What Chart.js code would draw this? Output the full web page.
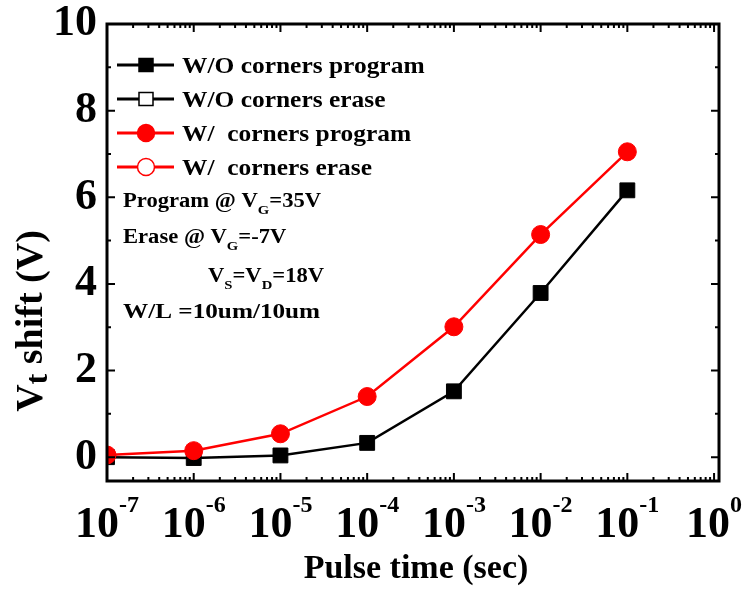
<!DOCTYPE html>
<html>
<head>
<meta charset="utf-8">
<script src="https://cdn.jsdelivr.net/npm/chart.js@4.4.0/dist/chart.umd.min.js"></script>
<style>
html, body { margin: 0; padding: 0; background: #fff; }
#caja { width: 743px; height: 592px; position: relative; }
</style>
</head>
<body>
<div id="caja"><canvas id="grafica"></canvas></div>
<script>
// datos
var pulseTimes = [1e-7, 1e-6, 1e-5, 1e-4, 1e-3, 1e-2, 1e-1];
var woProgram = [0.0, -0.02, 0.04, 0.33, 1.52, 3.79, 6.16];
var wProgram = [0.05, 0.15, 0.54, 1.40, 3.01, 5.14, 7.05];
var woErase = [];
var wErase = [];
var seriesNames = ['W/O corners program', 'W/O corners erase', 'W/  corners program', 'W/  corners erase'];
var yTicks = [0, 2, 4, 6, 8, 10];
var yMinorTicks = [1, 3, 5, 7, 9];
var xExponents = [-7, -6, -5, -4, -3, -2, -1, 0];

var FONT = "'Liberation Serif', 'Times New Roman', serif";

function puntos(vals) {
    return vals.map(function (v, i) { return { x: pulseTimes[i], y: v }; });
}

// texto con subindices / superindices: [texto, tipo, escala, desplazamiento]
function textoMixto(ctx, partes, x, y, size, align, sx) {
    sx = sx || 1;
    var total = 0;
    partes.forEach(function (p) {
        var s = p[1] ? size * p[2] : size;
        ctx.font = 'bold ' + s + 'px ' + FONT;
        p.w = ctx.measureText(p[0]).width * sx;
        total += p.w;
    });
    var cx = align === 'center' ? x - total / 2 : x;
    partes.forEach(function (p) {
        var s = p[1] ? size * p[2] : size;
        ctx.font = 'bold ' + s + 'px ' + FONT;
        var dy = p[1] === 'sub' ? p[3] : (p[1] === 'sup' ? -p[3] : 0);
        ctx.save();
        ctx.translate(cx, y + dy);
        ctx.scale(sx, 1);
        ctx.fillText(p[0], 0, 0);
        ctx.restore();
        cx += p.w;
    });
}

var marco = {
    id: 'marco',
    afterDraw: function (chart) {
        var ctx = chart.ctx;
        var a = chart.chartArea;
        var xs = chart.scales.x, ys = chart.scales.y;
        ctx.save();
        ctx.fillStyle = '#000';
        ctx.strokeStyle = '#000';

        // marco
        ctx.lineWidth = 3;
        ctx.strokeRect(a.left, a.top, a.right - a.left, a.bottom - a.top);

        // ticks hacia adentro
        ctx.lineWidth = 2;
        ctx.beginPath();
        yTicks.forEach(function (v) {
            var py = ys.getPixelForValue(v);
            ctx.moveTo(a.left, py); ctx.lineTo(a.left + 8, py);
            ctx.moveTo(a.right, py); ctx.lineTo(a.right - 8, py);
        });
        yMinorTicks.forEach(function (v) {
            var py = ys.getPixelForValue(v);
            ctx.moveTo(a.left, py); ctx.lineTo(a.left + 4, py);
            ctx.moveTo(a.right, py); ctx.lineTo(a.right - 4, py);
        });
        xExponents.forEach(function (e) {
            var px = xs.getPixelForValue(Math.pow(10, e));
            ctx.moveTo(px, a.bottom); ctx.lineTo(px, a.bottom - 8);
            ctx.moveTo(px, a.top); ctx.lineTo(px, a.top + 8);
            if (e < 0) {
                for (var k = 2; k <= 9; k++) {
                    var pm = xs.getPixelForValue(k * Math.pow(10, e));
                    ctx.moveTo(pm, a.bottom); ctx.lineTo(pm, a.bottom - 4);
                    ctx.moveTo(pm, a.top); ctx.lineTo(pm, a.top + 4);
                }
            }
        });
        ctx.stroke();

        // etiquetas eje y
        ctx.textAlign = 'right';
        ctx.textBaseline = 'middle';
        ctx.font = 'bold 44px ' + FONT;
        yTicks.forEach(function (v) {
            ctx.fillText(String(v), 97, ys.getPixelForValue(v));
        });

        // etiquetas eje x: 10^n
        ctx.textAlign = 'left';
        ctx.textBaseline = 'alphabetic';
        xExponents.forEach(function (e) {
            var px = xs.getPixelForValue(Math.pow(10, e));
            textoMixto(ctx, [['10'], [String(e), 'sup', 24 / 44, 25]], px, 537, 44, 'center');
        });

        // titulos
        textoMixto(ctx, [['Pulse time (sec)']], 416, 578, 34, 'center');
        ctx.save();
        ctx.translate(42, 321);
        ctx.rotate(-Math.PI / 2);
        textoMixto(ctx, [['V'], ['t', 'sub', 0.85, 5], [' shift (V)']], 0, 0, 38, 'center');
        ctx.restore();

        // leyenda
        var filas = [65, 99, 133, 167];
        chart.data.datasets.forEach(function (ds, i) {
            var yy = filas[i];
            ctx.strokeStyle = ds.borderColor;
            ctx.lineWidth = 3;
            ctx.beginPath();
            ctx.moveTo(117, yy); ctx.lineTo(174, yy);
            ctx.stroke();
            ctx.fillStyle = ds.pointBackgroundColor;
            ctx.lineWidth = 1.5;
            ctx.beginPath();
            if (ds.pointStyle === 'rect') {
                ctx.rect(139, yy - 6.5, 14, 13);
            } else {
                ctx.arc(146, yy, 8.5, 0, Math.PI * 2);
            }
            ctx.fill();
            ctx.stroke();
            ctx.fillStyle = '#000';
            textoMixto(ctx, [[seriesNames[i]]], 182, yy + 8, 24, 'left', 1.06);
        });

        // notas
        ctx.fillStyle = '#000';
        textoMixto(ctx, [['Program @ V'], ['G', 'sub', 0.65, 7], ['=35V']], 123, 207, 20, 'left', 1.13);
        textoMixto(ctx, [['Erase @ V'], ['G', 'sub', 0.65, 7], ['=-7V']], 123, 243, 20, 'left', 1.13);
        textoMixto(ctx, [['V'], ['S', 'sub', 0.65, 7], ['=V'], ['D', 'sub', 0.65, 7], ['=18V']], 208, 282, 20, 'left', 1.13);
        textoMixto(ctx, [['W/L =10um/10um']], 123, 318, 21, 'left', 1.2);

        ctx.restore();
    }
};

var ctx = document.getElementById('grafica');
var grafica = new Chart(ctx, {
    type: 'line',
    data: {
        datasets: [{
            label: seriesNames[0],
            data: puntos(woProgram),
            borderColor: '#000000',
            borderWidth: 2.5,
            pointStyle: 'rect',
            pointRadius: 10.5,
            pointBackgroundColor: '#000000',
            pointBorderColor: '#000000',
            pointBorderWidth: 1,
            order: 1
        }, {
            label: seriesNames[1],
            data: puntos(woErase),
            borderColor: '#000000',
            borderWidth: 2.5,
            pointStyle: 'rect',
            pointBackgroundColor: '#ffffff',
            pointBorderColor: '#000000',
            order: 1
        }, {
            label: seriesNames[2],
            data: puntos(wProgram),
            borderColor: '#ff0000',
            borderWidth: 2.5,
            pointStyle: 'circle',
            pointRadius: 9,
            pointBackgroundColor: '#ff0000',
            pointBorderColor: '#ff0000',
            pointBorderWidth: 1,
            order: 0
        }, {
            label: seriesNames[3],
            data: puntos(wErase),
            borderColor: '#ff0000',
            borderWidth: 2.5,
            pointStyle: 'circle',
            pointBackgroundColor: '#ffffff',
            pointBorderColor: '#ff0000',
            order: 0
        }]
    },
    options: {
        responsive: true,
        maintainAspectRatio: false,
        animation: false,
        layout: { padding: { left: 107, top: 24, right: 24, bottom: 111 } },
        plugins: {
            legend: { display: false },
            tooltip: { enabled: false }
        },
        elements: { line: { tension: 0 } },
        scales: {
            x: { type: 'logarithmic', min: 1e-7, max: 1.14, display: false },
            y: { type: 'linear', min: -0.55, max: 10, display: false }
        }
    },
    plugins: [marco]
});
</script>
</body>
</html>
